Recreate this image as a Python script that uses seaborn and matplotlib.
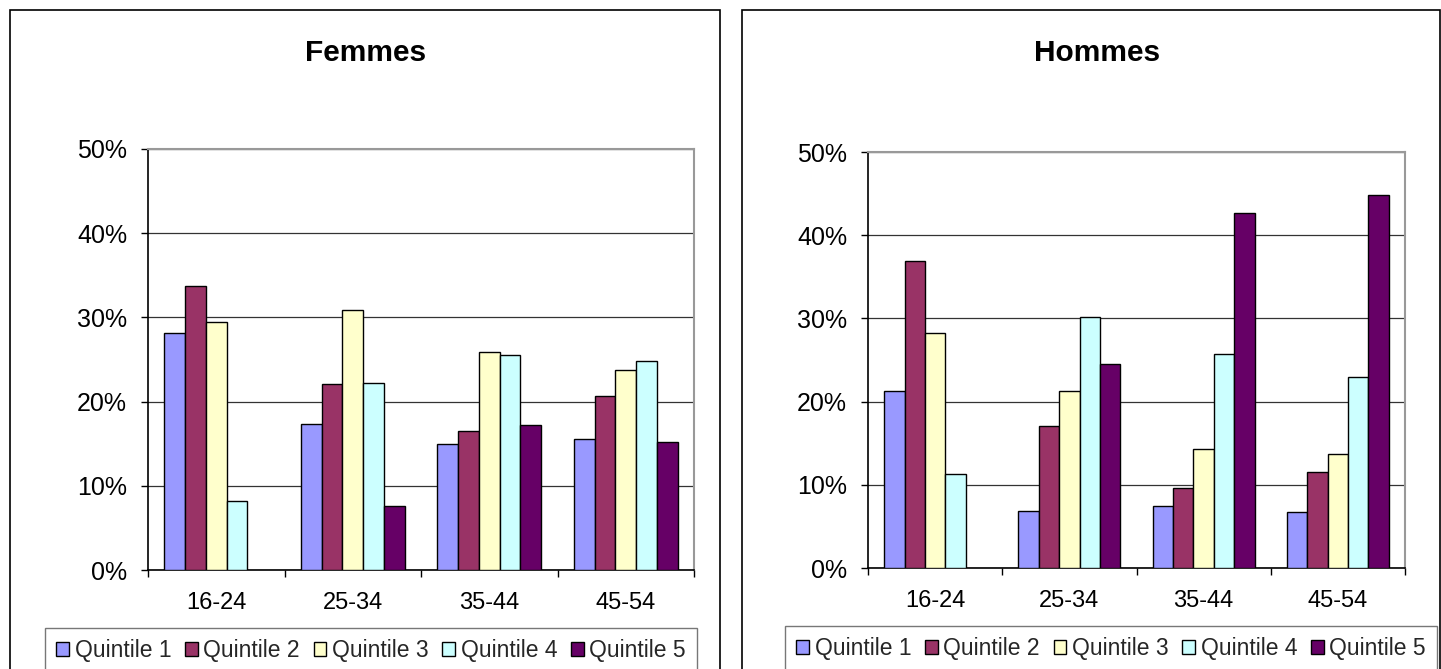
import numpy as np
import pandas as pd
import matplotlib
matplotlib.use("Agg")
import matplotlib.pyplot as plt
from matplotlib.patches import Rectangle
from matplotlib.ticker import FuncFormatter, FixedLocator
import seaborn as sns

# Age groups and income quintiles
age_groups = ["16-24", "25-34", "35-44", "45-54"]
quintiles = ["Quintile 1", "Quintile 2", "Quintile 3", "Quintile 4", "Quintile 5"]

# Share per quintile within each age group (%), one list per quintile
femmes = {
    "Quintile 1": [28.1, 17.3, 15.0, 15.6],
    "Quintile 2": [33.7, 22.1, 16.5, 20.7],
    "Quintile 3": [29.4, 30.9, 25.9, 23.8],
    "Quintile 4": [8.2, 22.2, 25.5, 24.8],
    "Quintile 5": [np.nan, 7.6, 17.2, 15.2],
}
hommes = {
    "Quintile 1": [21.3, 6.9, 7.4, 6.7],
    "Quintile 2": [36.9, 17.1, 9.6, 11.5],
    "Quintile 3": [28.2, 21.3, 14.3, 13.7],
    "Quintile 4": [11.3, 30.2, 25.7, 23.0],
    "Quintile 5": [np.nan, 24.5, 42.7, 44.8],
}

colors = ["#9999FF", "#993366", "#FFFFCC", "#CCFFFF", "#660066"]

sns.set_theme(style="white")
plt.rcParams["font.family"] = ["Liberation Sans", "DejaVu Sans"]

W, H = 1441, 669
fig = plt.figure(figsize=(W / 100, H / 100), dpi=100)


def to_long(d):
    rows = []
    for q in quintiles:
        for age, v in zip(age_groups, d[q]):
            rows.append({"age": age, "quintile": q, "value": v / 100.0})
    return pd.DataFrame(rows).dropna()


def px_rect(x0, y0, x1, y1):
    # pixel box (top-left origin) -> figure fraction [left, bottom, width, height]
    return [x0 / W, 1 - y1 / H, (x1 - x0) / W, (y1 - y0) / H]


panels = [
    ("Femmes", femmes, (148, 149, 694, 570), (10, 10, 720), 366, (45, 628)),
    ("Hommes", hommes, (868, 152, 1405, 568), (742, 10, 1440), 1097, (785, 626)),
]

for title, data, plot_box, frame, title_x, leg_pos in panels:
    # chart frame around each panel (runs off the bottom edge)
    fx0, fy0, fx1 = frame
    fig.add_artist(Rectangle((fx0 / W, -0.1), (fx1 - fx0) / W, 1 - fy0 / H + 0.1,
                             transform=fig.transFigure, fill=False,
                             edgecolor="black", linewidth=1.2, zorder=0))

    ax = fig.add_axes(px_rect(*plot_box))
    df = to_long(data)
    sns.barplot(data=df, x="age", y="value", hue="quintile",
                order=age_groups, hue_order=quintiles, palette=colors,
                saturation=1, width=0.76, gap=0, edgecolor="black",
                linewidth=1.0, errorbar=None, ax=ax, zorder=3)

    ax.set_ylim(0, 0.5)
    ax.set_xlim(-0.5, len(age_groups) - 0.5)
    ax.set_yticks(np.arange(0, 0.51, 0.1))
    ax.yaxis.set_major_formatter(FuncFormatter(lambda v, p: f"{v * 100:.0f}%"))
    ax.grid(axis="y", color="#333333", linewidth=0.9, zorder=0)
    ax.set_axisbelow(True)
    ax.set_xlabel("")
    ax.set_ylabel("")

    # category labels at centres, tick marks at the boundaries
    ax.xaxis.set_major_locator(FixedLocator(np.arange(-0.5, len(age_groups), 1.0)))
    ax.xaxis.set_minor_locator(FixedLocator(np.arange(len(age_groups))))
    ax.set_xticklabels([""] * (len(age_groups) + 1))
    ax.set_xticklabels(age_groups, minor=True)
    ax.tick_params(axis="x", which="major", direction="out", length=5, width=1,
                   color="black", bottom=True)
    ax.tick_params(axis="x", which="minor", length=0, pad=16, labelsize=17,
                   labelcolor="black", bottom=True)
    ax.tick_params(axis="y", direction="out", length=5, width=1, color="black",
                   left=True, pad=10, labelsize=18, labelcolor="black")

    for side in ["left", "bottom"]:
        ax.spines[side].set_color("black")
        ax.spines[side].set_linewidth(1.2)
    for side in ["top", "right"]:
        ax.spines[side].set_color("#999999")
        ax.spines[side].set_linewidth(1.5)
        ax.spines[side].set_visible(True)

    ax.get_legend().remove()
    handles = [Rectangle((0, 0), 1, 1, facecolor=c, edgecolor="black", linewidth=1.0)
               for c in colors]
    lx, ly = leg_pos
    fig.legend(handles, quintiles, loc="upper left",
               bbox_to_anchor=(lx / W, 1 - ly / H), ncol=5,
               fontsize=16.5, frameon=True, fancybox=False, edgecolor="#555555",
               handlelength=0.55, handleheight=0.55, handletextpad=0.25,
               columnspacing=0.6, borderpad=0.5, borderaxespad=0)

    fig.text(title_x / W, 1 - 53 / H, title, ha="center", va="center",
             fontsize=21.5, fontweight="bold", color="black")

fig.savefig("out.png", dpi=100)
